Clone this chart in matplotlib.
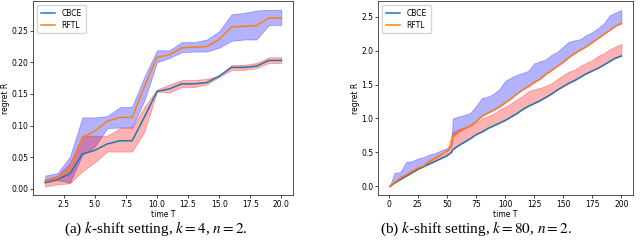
import numpy as np
import matplotlib.pyplot as plt

plt.rcParams['mathtext.fontset'] = 'stix'

# ---- (a) k = 4 ----
t_a = [1, 2, 3, 4, 5, 6, 7, 8, 9, 10, 11, 12, 13, 14, 15, 16, 17, 18, 19, 20]
cbce_a = [0.010, 0.015, 0.024, 0.055, 0.061, 0.071, 0.076, 0.076, 0.114, 0.154,
          0.158, 0.166, 0.166, 0.168, 0.178, 0.192, 0.192, 0.194, 0.203, 0.203]
cbce_lo_a = [0.004, 0.007, 0.009, 0.028, 0.042, 0.059, 0.059, 0.059, 0.091, 0.154,
             0.152, 0.161, 0.161, 0.165, 0.177, 0.188, 0.188, 0.191, 0.199, 0.199]
cbce_hi_a = [0.015, 0.021, 0.041, 0.084, 0.084, 0.084, 0.096, 0.097, 0.130, 0.157,
             0.165, 0.172, 0.172, 0.174, 0.179, 0.196, 0.196, 0.199, 0.208, 0.208]
rftl_a = [0.012, 0.017, 0.030, 0.082, 0.091, 0.107, 0.113, 0.113, 0.162, 0.208,
          0.212, 0.223, 0.224, 0.225, 0.236, 0.256, 0.257, 0.258, 0.270, 0.270]
rftl_lo_a = [0.010, 0.014, 0.010, 0.054, 0.067, 0.096, 0.097, 0.097, 0.140, 0.200,
             0.207, 0.216, 0.217, 0.217, 0.223, 0.234, 0.236, 0.236, 0.259, 0.259]
rftl_hi_a = [0.021, 0.025, 0.051, 0.113, 0.113, 0.115, 0.129, 0.130, 0.178, 0.219,
             0.219, 0.232, 0.232, 0.236, 0.249, 0.276, 0.278, 0.282, 0.283, 0.283]

# ---- (b) k = 80 ----
t_b = [1, 5, 10, 15, 20, 25, 30, 35, 40, 45, 50, 54, 55, 60, 65, 70, 75, 80, 85, 90,
       95, 100, 105, 110, 115, 120, 125, 130, 135, 140, 145, 150, 155, 160, 165, 170,
       175, 180, 185, 190, 195, 200]
cbce_b = [0.00, 0.05, 0.10, 0.15, 0.20, 0.25, 0.29, 0.33, 0.37, 0.41, 0.45, 0.50, 0.54,
          0.60, 0.65, 0.70, 0.76, 0.80, 0.85, 0.89, 0.93, 0.97, 1.02, 1.07, 1.13, 1.18,
          1.22, 1.26, 1.31, 1.36, 1.42, 1.47, 1.52, 1.56, 1.61, 1.66, 1.70, 1.74, 1.79,
          1.84, 1.89, 1.92]
cbce_hi_b = [0.00, 0.06, 0.14, 0.18, 0.22, 0.27, 0.31, 0.37, 0.42, 0.46, 0.50, 0.75, 0.80,
             0.84, 0.87, 0.90, 0.93, 1.00, 1.03, 1.07, 1.13, 1.17, 1.22, 1.28, 1.33, 1.40,
             1.43, 1.45, 1.48, 1.52, 1.58, 1.64, 1.69, 1.72, 1.78, 1.82, 1.86, 1.92, 1.96,
             2.02, 2.06, 2.10]
rftl_b = [0.00, 0.06, 0.12, 0.17, 0.22, 0.27, 0.30, 0.37, 0.42, 0.47, 0.52, 0.60, 0.73,
          0.80, 0.85, 0.89, 0.95, 1.03, 1.08, 1.12, 1.17, 1.23, 1.29, 1.36, 1.42, 1.47,
          1.53, 1.58, 1.65, 1.71, 1.77, 1.83, 1.90, 1.96, 2.01, 2.06, 2.12, 2.18, 2.24,
          2.30, 2.36, 2.40]
rftl_hi_b = [0.00, 0.20, 0.21, 0.36, 0.37, 0.41, 0.43, 0.47, 0.49, 0.53, 0.56, 0.62, 1.00,
             1.03, 1.05, 1.08, 1.18, 1.30, 1.32, 1.36, 1.43, 1.55, 1.60, 1.64, 1.67, 1.70,
             1.81, 1.84, 1.87, 1.94, 1.98, 2.06, 2.13, 2.15, 2.17, 2.23, 2.27, 2.33, 2.40,
             2.52, 2.56, 2.60]

fig = plt.figure(figsize=(6.4, 2.41), dpi=100)
ax1 = fig.add_axes([0.052, 0.190, 0.406, 0.806])
ax2 = fig.add_axes([0.591, 0.190, 0.398, 0.806])

panels = [
    (ax1, t_a, cbce_a, cbce_lo_a, cbce_hi_a, rftl_a, rftl_lo_a, rftl_hi_a),
    (ax2, t_b, cbce_b, cbce_b, cbce_hi_b, rftl_b, rftl_b, rftl_hi_b),
]
for ax, t, c, clo, chi, r, rlo, rhi in panels:
    ax.fill_between(t, rlo, rhi, color='b', alpha=0.3, lw=0.6)
    ax.fill_between(t, clo, chi, color='r', alpha=0.3, lw=0.6)
    ax.plot(t, c, color='#1f77b4', lw=1.1, label='CBCE')
    ax.plot(t, r, color='#ff7f0e', lw=1.1, label='RFTL')
    ax.set_xlabel('time T', fontsize=5.5, labelpad=1)
    ax.set_ylabel('regret R', fontsize=5.5, labelpad=1)
    ax.tick_params(labelsize=5.5, length=2, width=0.5, pad=1.5)
    for s in ax.spines.values():
        s.set_linewidth(0.6)
        s.set_color('#333333')
    ax.legend(loc='upper left', fontsize=5.5, handlelength=1.9, borderpad=0.5,
              labelspacing=0.4, framealpha=0.8)

ax2.set_yticks([0.0, 0.5, 1.0, 1.5, 2.0, 2.5])

cap = dict(fontsize=11, family='Liberation Serif', ha='center', va='center')
fig.text(0.243, 0.050, r'(a) $k$-shift setting, $k=4$, $n=2$.', **cap)
fig.text(0.744, 0.050, r'(b) $k$-shift setting, $k=80$, $n=2$.', **cap)

fig.savefig('out.png', dpi=100)
